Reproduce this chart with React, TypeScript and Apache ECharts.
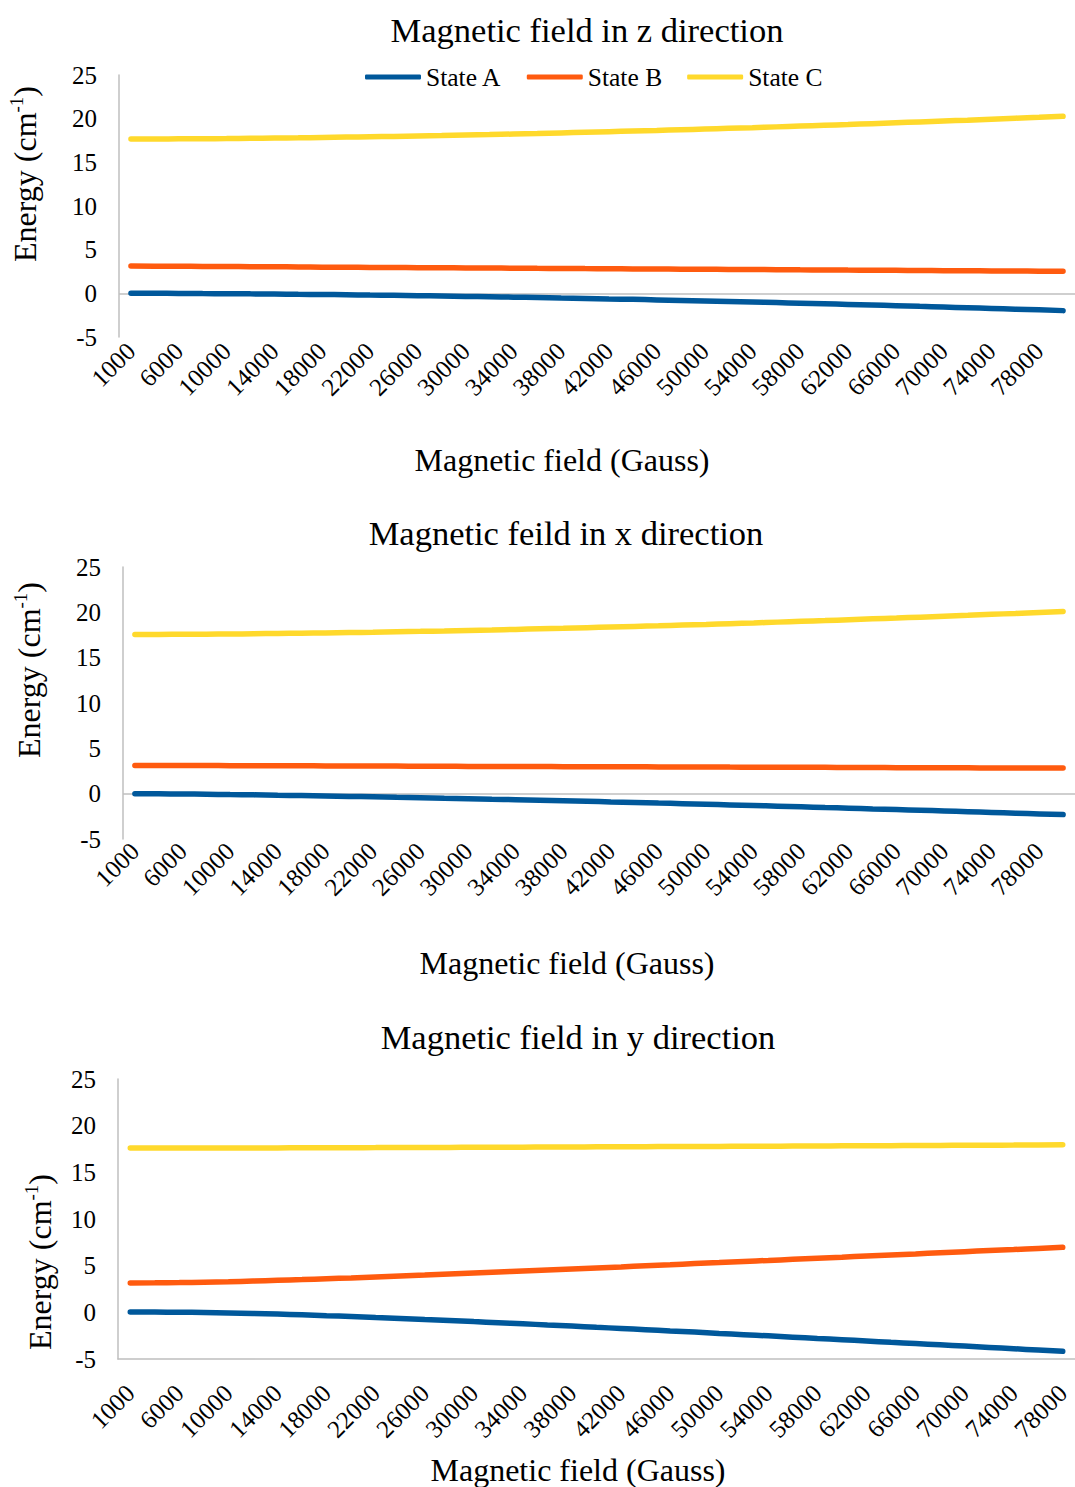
import React, { useEffect, useRef } from "react";
import * as echarts from "echarts";

const FONT = "'Liberation Serif', 'Times New Roman', serif";

// Magnetic field categories (Gauss)
const fieldsZX = [
  "1000", "4000", "6000", "8000", "10000", "12000", "14000", "16000", "18000", "20000",
  "22000", "24000", "26000", "28000", "30000", "32000", "34000", "36000", "38000", "40000",
  "42000", "44000", "46000", "48000", "50000", "52000", "54000", "56000", "58000", "60000",
  "62000", "64000", "66000", "68000", "70000", "72000", "74000", "76000", "78000", "80000",
];
const fieldsY = fieldsZX.slice(0, 39);

const seriesNames = ["State A", "State B", "State C"];
const colors = ["#00589B", "#FF5B0F", "#FFD92C"];

// z direction
const zStateA = [
  0.0, 0.0, -0.01, -0.03, -0.04, -0.06, -0.08, -0.11, -0.13, -0.16,
  -0.2, -0.23, -0.27, -0.31, -0.35, -0.39, -0.44, -0.48, -0.53, -0.58,
  -0.64, -0.69, -0.75, -0.81, -0.87, -0.93, -0.99, -1.06, -1.13, -1.2,
  -1.27, -1.34, -1.41, -1.49, -1.57, -1.65, -1.73, -1.81, -1.89, -1.98,
];
const zStateB = [
  3.13, 3.11, 3.1, 3.08, 3.07, 3.05, 3.04, 3.02, 3.0, 2.99,
  2.97, 2.96, 2.94, 2.93, 2.91, 2.9, 2.88, 2.86, 2.85, 2.83,
  2.82, 2.8, 2.79, 2.77, 2.75, 2.74, 2.72, 2.71, 2.69, 2.68,
  2.66, 2.65, 2.63, 2.61, 2.6, 2.58, 2.57, 2.55, 2.54, 2.52,
];
const zStateC = [
  17.67, 17.67, 17.69, 17.7, 17.72, 17.75, 17.78, 17.81, 17.85, 17.89,
  17.93, 17.97, 18.02, 18.07, 18.13, 18.18, 18.24, 18.3, 18.37, 18.44,
  18.51, 18.58, 18.65, 18.73, 18.81, 18.89, 18.97, 19.06, 19.15, 19.24,
  19.33, 19.43, 19.53, 19.63, 19.73, 19.83, 19.94, 20.05, 20.16, 20.27,
];

// x direction
const xStateA = [
  0.0, -0.01, -0.04, -0.06, -0.1, -0.13, -0.17, -0.21, -0.25, -0.3,
  -0.34, -0.39, -0.44, -0.5, -0.55, -0.61, -0.66, -0.72, -0.78, -0.84,
  -0.91, -0.97, -1.04, -1.1, -1.17, -1.24, -1.31, -1.38, -1.45, -1.53,
  -1.6, -1.68, -1.75, -1.83, -1.91, -1.99, -2.07, -2.15, -2.23, -2.31,
];
const xStateB = [
  3.12, 3.11, 3.1, 3.1, 3.09, 3.08, 3.07, 3.07, 3.06, 3.05,
  3.04, 3.04, 3.03, 3.02, 3.01, 3.0, 3.0, 2.99, 2.98, 2.97,
  2.97, 2.96, 2.95, 2.94, 2.94, 2.93, 2.92, 2.91, 2.9, 2.9,
  2.89, 2.88, 2.87, 2.87, 2.86, 2.85, 2.84, 2.84, 2.83, 2.82,
];
const xStateC = [
  17.56, 17.56, 17.58, 17.59, 17.61, 17.64, 17.67, 17.7, 17.73, 17.77,
  17.81, 17.86, 17.9, 17.95, 18.01, 18.06, 18.12, 18.18, 18.24, 18.31,
  18.38, 18.45, 18.52, 18.6, 18.67, 18.75, 18.83, 18.92, 19.01, 19.09,
  19.19, 19.28, 19.37, 19.47, 19.57, 19.67, 19.78, 19.88, 19.99, 20.1,
];

// y direction
const yStateA = [
  0.04, 0.03, 0.01, -0.02, -0.07, -0.13, -0.19, -0.27, -0.36, -0.45,
  -0.55, -0.65, -0.76, -0.87, -0.99, -1.11, -1.23, -1.35, -1.47, -1.6,
  -1.73, -1.86, -1.99, -2.12, -2.26, -2.39, -2.52, -2.66, -2.8, -2.93,
  -3.07, -3.21, -3.34, -3.48, -3.62, -3.76, -3.9, -4.04, -4.18,
];
const yStateB = [
  3.15, 3.16, 3.19, 3.23, 3.28, 3.35, 3.43, 3.51, 3.6, 3.69,
  3.79, 3.89, 3.99, 4.1, 4.21, 4.32, 4.43, 4.54, 4.65, 4.76,
  4.87, 4.99, 5.1, 5.22, 5.33, 5.45, 5.56, 5.68, 5.8, 5.91,
  6.03, 6.15, 6.26, 6.38, 6.5, 6.62, 6.73, 6.85, 6.97,
];
const yStateC = [
  17.6, 17.6, 17.6, 17.61, 17.61, 17.62, 17.62, 17.63, 17.63, 17.64,
  17.65, 17.66, 17.66, 17.67, 17.68, 17.69, 17.7, 17.71, 17.72, 17.73,
  17.74, 17.75, 17.76, 17.77, 17.78, 17.79, 17.8, 17.81, 17.82, 17.84,
  17.85, 17.86, 17.87, 17.88, 17.9, 17.91, 17.92, 17.94, 17.95,
];

const panelTitles = [
  "Magnetic field in z direction",
  "Magnetic feild in x direction",
  "Magnetic field in y direction",
];
const xAxisTitle = "Magnetic field (Gauss)";

export default function App() {
  const ref = useRef<HTMLDivElement>(null);

  useEffect(() => {
    if (!ref.current) return;
    const chart = echarts.init(ref.current, undefined, { renderer: "svg" });

    const grids = [
      { left: 119, top: 75, width: 958, height: 262 },
      { left: 123, top: 567, width: 956, height: 272 },
      { left: 118, top: 1079, width: 967, height: 280 },
    ];
    const cats = [fieldsZX, fieldsZX, fieldsY];
    const data = [
      [zStateA, zStateB, zStateC],
      [xStateA, xStateB, xStateC],
      [yStateA, yStateB, yStateC],
    ];
    const labelMargins = [10, 8, 30];
    const bottomLine = [false, false, true];
    const zeroLine = [true, true, false];

    const xAxes = grids.map((_, i) => ({
      type: "category",
      gridIndex: i,
      data: cats[i],
      boundaryGap: true,
      axisLine: { show: bottomLine[i], onZero: false, lineStyle: { color: "#bfbfbf", width: 1.5 } },
      axisTick: { show: false },
      axisLabel: {
        interval: 1,
        rotate: 45,
        margin: labelMargins[i],
        fontSize: 25,
        fontFamily: FONT,
        color: "#000",
      },
      splitLine: { show: false },
    }));

    const yAxes = grids.map((_, i) => ({
      type: "value",
      gridIndex: i,
      min: -5,
      max: 25,
      interval: 5,
      axisLine: { show: true, lineStyle: { color: "#bfbfbf", width: 1.5 } },
      axisTick: { show: false },
      axisLabel: { margin: 22, fontSize: 25, fontFamily: FONT, color: "#000" },
      splitLine: {
        show: zeroLine[i],
        lineStyle: {
          width: 1.5,
          color: ["transparent", "#bfbfbf", "transparent", "transparent", "transparent", "transparent", "transparent"],
        },
      },
    }));

    const series: any[] = [];
    data.forEach((panel, gi) => {
      panel.forEach((vals, si) => {
        series.push({
          type: "line",
          name: seriesNames[si],
          xAxisIndex: gi,
          yAxisIndex: gi,
          data: vals,
          symbol: "none",
          smooth: true,
          lineStyle: { width: 5.5, color: colors[si], cap: "round" },
          itemStyle: { color: colors[si] },
          z: 3,
        });
      });
    });

    const titlePos = [
      [587, 30],
      [566, 533],
      [578, 1037],
    ];
    const xTitlePos = [
      [562, 460],
      [567, 963],
      [578, 1470],
    ];
    const yTitlePos = [
      [25, 174],
      [29, 670],
      [40, 1262],
    ];

    const graphics: any[] = [];
    for (let i = 0; i < 3; i++) {
      graphics.push({
        type: "text",
        x: titlePos[i][0],
        y: titlePos[i][1],
        style: {
          text: panelTitles[i],
          fontSize: 34.5,
          fontFamily: FONT,
          fill: "#000",
          align: "center",
          verticalAlign: "middle",
        },
      });
      graphics.push({
        type: "text",
        x: xTitlePos[i][0],
        y: xTitlePos[i][1],
        style: {
          text: xAxisTitle,
          fontSize: 32,
          fontFamily: FONT,
          fill: "#000",
          align: "center",
          verticalAlign: "middle",
        },
      });
      graphics.push({
        type: "text",
        x: yTitlePos[i][0],
        y: yTitlePos[i][1],
        rotation: Math.PI / 2,
        style: {
          text: "{a|Energy (cm}{b|-1}{a|)}",
          rich: {
            a: { fontSize: 32, fontFamily: FONT, fill: "#000", lineHeight: 36 },
            b: { fontSize: 19, fontFamily: FONT, fill: "#000", verticalAlign: "top", lineHeight: 20 },
          },
          align: "center",
          verticalAlign: "middle",
        },
      });
    }

    chart.setOption({
      animation: false,
      backgroundColor: "#ffffff",
      legend: {
        data: seriesNames,
        left: 360,
        top: 59,
        icon: "roundRect",
        itemWidth: 56,
        itemHeight: 5,
        itemGap: 25,
        textStyle: { fontSize: 25.5, fontFamily: FONT, color: "#000" },
      },
      grid: grids,
      xAxis: xAxes,
      yAxis: yAxes,
      series,
      graphic: graphics,
    });

    return () => chart.dispose();
  }, []);

  return (
    <div
      ref={ref}
      style={{ position: "absolute", left: 0, top: 0, width: 1075, height: 1487 }}
    />
  );
}
